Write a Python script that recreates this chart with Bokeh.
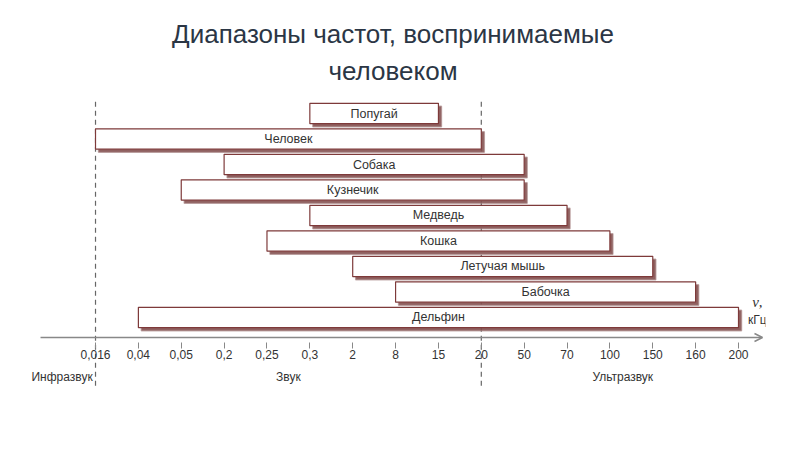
from bokeh.plotting import figure
from bokeh.models import (Range1d, LinearAxis, FixedTicker, ColumnDataSource,
                          Arrow, OpenHead, Label, Title)
from bokeh.embed import file_html
from bokeh.resources import INLINE

# ---- data ----
tick_labels = ["0,016", "0,04", "0,05", "0,2", "0,25", "0,3", "2", "8",
               "15", "20", "50", "70", "100", "150", "160", "200"]
animals = ["Попугай", "Человек", "Собака", "Кузнечик", "Медведь",
           "Кошка", "Летучая мышь", "Бабочка", "Дельфин"]
low_khz = ["0,3", "0,016", "0,2", "0,05", "0,3", "0,25", "2", "8", "0,04"]
high_khz = ["15", "20", "50", "50", "70", "100", "150", "160", "200"]
region_names = ["Инфразвук", "Звук", "Ультразвук"]
hearing_bounds = ["0,016", "20"]   # infrasound / sound / ultrasound boundaries
title_lines = ["Диапазоны частот, воспринимаемые", "человеком"]

# ---- mapping onto an ordinal frequency scale ----
idx = {t: i for i, t in enumerate(tick_labels)}
n = len(animals)
left = [idx[v] for v in low_khz]
right = [idx[v] for v in high_khz]
ypos = [n - 1 - i for i in range(n)]
mid = [(a + b) / 2 for a, b in zip(left, right)]

src = ColumnDataSource(dict(name=animals, left=left, right=right, y=ypos, mid=mid))

X0, X1 = -1.75, 15.63
Y0, Y1 = -2.863, 8.706
AXIS_START = -1.283

p = figure(width=800, height=450, output_backend="svg", toolbar_location=None,
           x_range=Range1d(X0, X1), y_range=Range1d(Y0, Y1),
           x_axis_location=None, y_axis_location=None,
           min_border_left=20, min_border_right=35,
           min_border_top=95, min_border_bottom=60)
p.outline_line_color = None
p.grid.visible = False
p.title = None

# title (two centred lines; the later one added sits further out)
p.add_layout(Title(text=title_lines[1], align="center", text_font="Liberation Sans",
                   text_font_size="26px", text_font_style="normal",
                   text_color="#2b3645", standoff=19), "above")
p.add_layout(Title(text=title_lines[0], align="center", text_font="Liberation Sans",
                   text_font_size="26px", text_font_style="normal",
                   text_color="#2b3645", standoff=-9), "above")

# dashed boundary lines
for b in hearing_bounds:
    p.segment(x0=[idx[b]], y0=[Y1 - 0.25], x1=[idx[b]], y1=[Y0 + 0.1],
              line_color="#666666", line_width=1.2, line_dash="5 4")

# bar shadows (offset down-right)
dx = 3 / 42.87
dy = 3 / 25.5
shadow = ColumnDataSource(dict(left=[l + dx for l in left],
                               right=[r + dx for r in right],
                               y=[y - dy for y in ypos]))
p.hbar(y="y", left="left", right="right", height=0.8, source=shadow,
       fill_color="#84504f", fill_alpha=0.9, line_color="#a07c7c", line_alpha=0.6,
       line_width=1.5)

# bars
p.hbar(y="y", left="left", right="right", height=0.8, source=src,
       fill_color="white", line_color="#7e3a3a", line_width=1.2)
p.text(x="mid", y="y", text="name", source=src, text_align="center",
       text_baseline="middle", text_font_size="12.5px", text_color="#333333",
       text_font={"value": "Liberation Sans"})

# frequency axis
ax = LinearAxis(fixed_location=-0.98,
                ticker=FixedTicker(ticks=list(range(len(tick_labels)))),
                major_label_overrides={i: t for i, t in enumerate(tick_labels)})
ax.axis_line_color = None
ax.major_tick_in = 0
ax.major_tick_out = 6
ax.major_tick_line_color = "#888888"
ax.minor_tick_line_color = None
ax.major_label_standoff = 2
ax.major_label_text_font = "Liberation Sans"
ax.major_label_text_font_size = "12px"
ax.major_label_text_color = "#333333"
p.add_layout(ax, "below")

# region axis
region_pos = [-0.78, 4.5, 12.3]
rax = LinearAxis(fixed_location=-1.84,
                 ticker=FixedTicker(ticks=region_pos),
                 major_label_overrides={pos: t for pos, t in zip(region_pos, region_names)})
rax.axis_line_color = None
rax.major_tick_line_color = None
rax.minor_tick_line_color = None
rax.major_label_standoff = 0
rax.major_label_text_font = "Liberation Sans"
rax.major_label_text_font_size = "12px"
rax.major_label_text_color = "#333333"
p.add_layout(rax, "below")

# axis line with arrow
p.add_layout(Arrow(x_start=AXIS_START, y_start=-0.784, x_end=15.56, y_end=-0.784,
                   line_color="#888888", line_width=1.5,
                   end=OpenHead(size=8, line_color="#888888", line_width=1.5)))

# unit label
p.add_layout(Label(x=15.44, y=0.59, text="ν,", text_align="center",
                   text_baseline="middle", text_font="Liberation Serif",
                   text_font_style="italic", text_font_size="15px",
                   text_color="#333333"))
p.add_layout(Label(x=15.44, y=-0.1, text="кГц", text_align="center",
                   text_baseline="middle", text_font="Liberation Sans",
                   text_font_size="12px", text_color="#333333"))

open("out.html", "w").write(file_html(p, INLINE))
